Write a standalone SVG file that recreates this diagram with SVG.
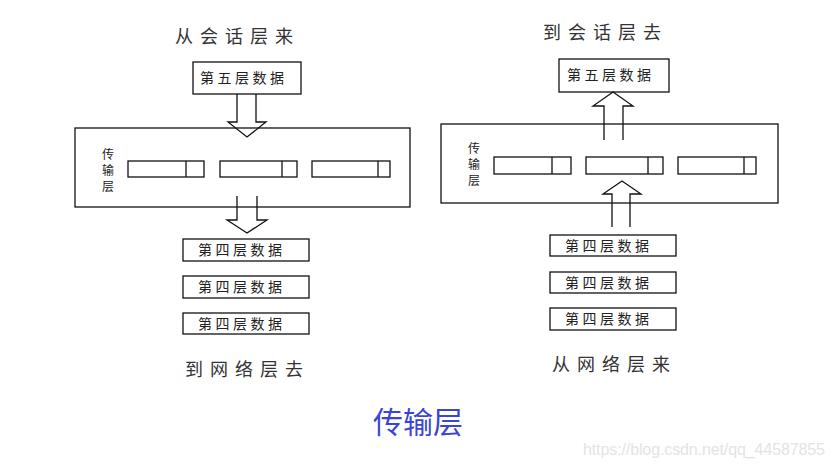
<svg xmlns="http://www.w3.org/2000/svg" width="835" height="467" viewBox="0 0 835 467">
<style>
.b{fill:#fff;stroke:#111;stroke-width:1.3}
.ln{fill:none;stroke:#111;stroke-width:1.3}
.t{font-family:"Noto Sans CJK SC","Noto Sans CJK JP",sans-serif;fill:#222}
.bx{font-size:14px;letter-spacing:3.5px}
.ti{font-size:18px;letter-spacing:7px;fill:#333}
.vt{font-size:12px}
</style>
<rect width="835" height="467" fill="#fff"/>
<g id="left-title"><text class="t ti" x="175" y="43">从会话层来</text></g>
<g id="left-l5"><rect class="b" x="193" y="62" width="108" height="32"/><text class="t bx" x="200" y="83">第五层数据</text></g>
<g id="left-transport">
<rect class="b" x="75" y="128" width="335" height="79"/>
<text class="t vt" x="102" y="159">传</text><text class="t vt" x="102" y="175">输</text><text class="t vt" x="102" y="191">层</text>
<rect class="ln" x="128" y="161" width="76" height="16"/><line class="ln" x1="186" y1="161" x2="186" y2="177"/>
<rect class="ln" x="220" y="161" width="77" height="16"/><line class="ln" x1="282" y1="161" x2="282" y2="177"/>
<rect class="ln" x="312" y="161" width="78" height="16"/><line class="ln" x1="378" y1="161" x2="378" y2="177"/>
</g>
<g id="left-l4a"><rect class="b" x="183" y="239" width="126" height="22"/><text class="t bx" x="198" y="255">第四层数据</text></g>
<g id="left-l4b"><rect class="b" x="183" y="276" width="126" height="22"/><text class="t bx" x="198" y="292">第四层数据</text></g>
<g id="left-l4c"><rect class="b" x="183" y="313" width="126" height="21"/><text class="t bx" x="198" y="329">第四层数据</text></g>
<g id="left-bottom-title"><text class="t ti" x="185" y="376">到网络层去</text></g>

<g id="right-title"><text class="t ti" x="543" y="39">到会话层去</text></g>
<g id="right-l5"><rect class="b" x="559" y="59" width="110" height="33"/><text class="t bx" x="567" y="80">第五层数据</text></g>
<g id="right-transport">
<rect class="b" x="441" y="124" width="337" height="79"/>
<text class="t vt" x="468" y="153">传</text><text class="t vt" x="468" y="169">输</text><text class="t vt" x="468" y="185">层</text>
<rect class="ln" x="494" y="157" width="77" height="17"/><line class="ln" x1="552" y1="157" x2="552" y2="174"/>
<rect class="ln" x="586" y="157" width="77" height="17"/><line class="ln" x1="648" y1="157" x2="648" y2="174"/>
<rect class="ln" x="678" y="157" width="78" height="17"/><line class="ln" x1="744" y1="157" x2="744" y2="174"/>
</g>
<g id="right-l4a"><rect class="b" x="550" y="235" width="126" height="21"/><text class="t bx" x="565" y="251">第四层数据</text></g>
<g id="right-l4b"><rect class="b" x="550" y="272" width="126" height="21"/><text class="t bx" x="565" y="288">第四层数据</text></g>
<g id="right-l4c"><rect class="b" x="550" y="308" width="126" height="22"/><text class="t bx" x="565" y="324">第四层数据</text></g>
<g id="right-bottom-title"><text class="t ti" x="552" y="371">从网络层来</text></g>

<g id="connectors">
<polyline class="ln" points="237,94 237,122 228,122 247,137 266,122 256,122 256,94"/>
<polyline class="ln" points="237,196 237,220 227,220 247,233 267,220 257,220 257,196"/>
<polyline class="ln" points="604,140 604,106 593,106 613,92 633,106 623,106 623,140"/>
<polyline class="ln" points="612,227 612,194 603,194 622,181 641,194 630,194 630,227"/>
</g>
<g id="caption"><text x="373" y="433" font-family="Noto Sans CJK SC,sans-serif" font-size="30" fill="#3b44d6">传输层</text></g>
<g id="watermark"><text x="583" y="455" font-family="Liberation Sans,Arial,sans-serif" font-size="16" fill="#e4e4e4" textLength="242">https://blog.csdn.net/qq_44587855</text></g>
</svg>
